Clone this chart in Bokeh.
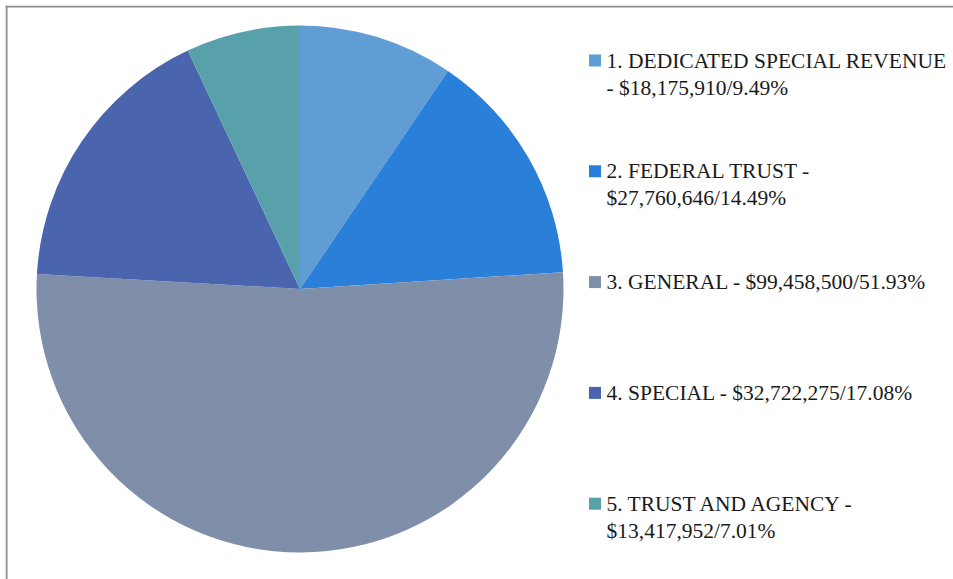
import math
from bokeh.plotting import figure
from bokeh.models import Range1d, ColumnDataSource, Span
from bokeh.core.properties import value
from bokeh.embed import file_html
from bokeh.resources import INLINE

# ---- data ----
categories = ["1. DEDICATED SPECIAL REVENUE", "2. FEDERAL TRUST", "3. GENERAL",
              "4. SPECIAL", "5. TRUST AND AGENCY"]
amounts = [18175910, 27760646, 99458500, 32722275, 13417952]
percents = ["9.49%", "14.49%", "51.93%", "17.08%", "7.01%"]
colors = ["#5f9dd4", "#2a7fd8", "#7f8fa9", "#4a65ae", "#58a0aa"]
# legend text as wrapped in the reference
label_lines = [
    ["1. DEDICATED SPECIAL REVENUE", "- $18,175,910/9.49%"],
    ["2. FEDERAL TRUST -", "$27,760,646/14.49%"],
    ["3. GENERAL - $99,458,500/51.93%"],
    ["4. SPECIAL - $32,722,275/17.08%"],
    ["5. TRUST AND AGENCY -", "$13,417,952/7.01%"],
]

# ---- layout (window pixel coordinates) ----
WIN_W, WIN_H = 953, 579
OFF = 5  # figure placed to start at 5,5
W, H = WIN_W - OFF, WIN_H - OFF

def py(y):  # window pixel y -> data y
    return WIN_H - y

p = figure(width=W, height=H, output_backend="svg", toolbar_location=None,
           x_range=Range1d(OFF, WIN_W), y_range=Range1d(0, WIN_H - OFF),
           min_border=0)
p.styles = {"margin-left": "5px", "margin-top": "5px"}
p.axis.visible = False
p.grid.visible = False
p.background_fill_color = "white"
p.border_fill_color = "white"
p.outline_line_color = None

# chart border: only top and left edges are inside the picture
p.add_layout(Span(location=OFF + 1, dimension="height", line_color="#8c8c8c", line_width=2))
p.add_layout(Span(location=WIN_H - OFF - 1, dimension="width", line_color="#8c8c8c", line_width=2))

total = sum(amounts)
starts, ends = [], []
cum = 0.0
for a in amounts:
    f0 = cum / total
    cum += a
    f1 = cum / total
    # clockwise from 12 o'clock
    starts.append(math.pi / 2 - f1 * 2 * math.pi)
    ends.append(math.pi / 2 - f0 * 2 * math.pi)

cx, cy, r = 299.5, py(288.5), 263.5
src = ColumnDataSource(dict(start=starts, end=ends, color=colors))
p.wedge(x=cx, y=cy, radius=r, radius_units="screen", start_angle="start",
        end_angle="end", fill_color="color", line_color=None, source=src)

# legend
sq_x, txt_x = 594.5, 606
first_y, step, line_h = 60, 110.8, 27
sx, sy, sc = [], [], []
tx, ty, tt = [], [], []
for i, lines in enumerate(label_lines):
    y0 = first_y + step * i
    sx.append(sq_x); sy.append(py(y0)); sc.append(colors[i])
    for j, line in enumerate(lines):
        tx.append(txt_x); ty.append(py(y0 + j * line_h)); tt.append(line)

p.scatter(x=sx, y=sy, size=12, marker="square", fill_color=sc, line_color=None)
p.text(x=tx, y=ty, text=tt, text_font=value("Liberation Serif"),
       text_font_size="21.5px", text_baseline="middle", text_color="#1a1a1a")

open("out.html", "w").write(file_html(p, INLINE))
